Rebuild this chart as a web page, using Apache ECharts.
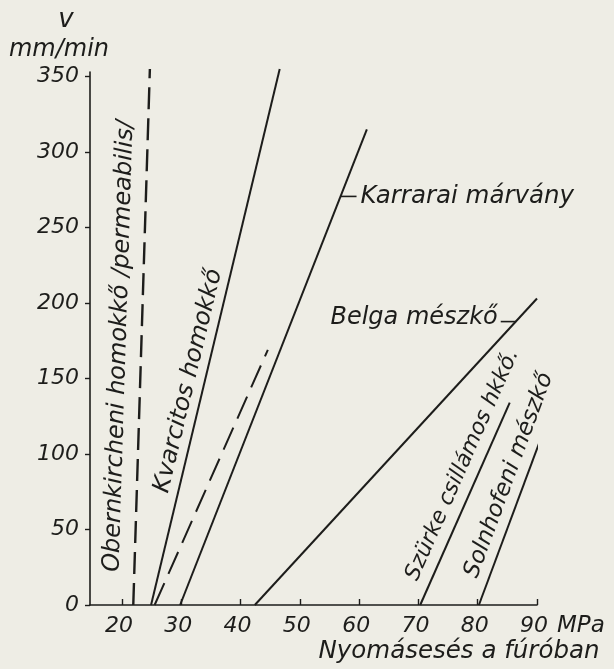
<!DOCTYPE html>
<html><head><meta charset="utf-8">
<script src="https://cdn.jsdelivr.net/npm/echarts@6/dist/echarts.min.js"></script>
<style>html,body{margin:0;padding:0;background:#eeede5;}#c{width:614px;height:669px;}</style>
</head><body><div id="c"></div>
<script>
// ---- data (MPa, mm/min) ----
const xTicks = [20, 30, 40, 50, 60, 70, 80, 90];
const yTicks = [0, 50, 100, 150, 200, 250, 300, 350];
const obernkirchen = [[21.9, 0], [24.7, 355]];
const kvarcitos = [[24.9, 0], [46.6, 355]];
const kvarcitosDashed = [[25.5, 0], [44.6, 169]];
const karrarai = [[29.8, 0], [61.3, 315]];
const belga = [[42.4, 0], [90.0, 203]];
const szurke = [[70.3, 0], [85.4, 134]];
const solnhofen = [[80.2, 0], [91.0, 114]];

const INK = '#1d1d1b';
const FONT = 'DejaVu Sans';

const chart = echarts.init(document.getElementById('c'));
function ln(data, dash, w) {
  return {type: 'line', data: data, showSymbol: false, clip: false, silent: true,
    lineStyle: {color: INK, width: w || 2, type: dash || 'solid'}};
}
chart.setOption({
  backgroundColor: '#eeede5',
  animation: false,
  grid: {left: 90, right: 77, top: 72, bottom: 64},
  xAxis: {type: 'value', min: 14.6, max: 90,
    axisLine: {lineStyle: {color: INK, width: 1.6}},
    axisTick: {inside: true, length: 6, customValues: xTicks, lineStyle: {color: INK, width: 1.4}},
    axisLabel: {customValues: xTicks, margin: 10, color: INK, fontSize: 22, fontStyle: 'italic', fontFamily: FONT,
      padding: [0, 6, 0, 0]},
    splitLine: {show: false}},
  yAxis: {type: 'value', min: 0, max: 353,
    axisLine: {show: true, lineStyle: {color: INK, width: 1.6}},
    axisTick: {show: true, length: 5, customValues: yTicks, lineStyle: {color: INK, width: 1.4}},
    axisLabel: {customValues: yTicks, margin: 11, color: INK, fontSize: 22, fontStyle: 'italic', fontFamily: FONT},
    splitLine: {show: false}},
  series: [
    ln(obernkirchen, [22, 9], 2.4),
    ln(kvarcitos),
    ln(kvarcitosDashed, [24, 10], 2),
    ln(karrarai),
    ln(belga),
    ln(szurke),
    ln(solnhofen)
  ]
});

function px(p) { return chart.convertToPixel({gridIndex: 0}, p); }
function txt(text, x, y, opts) {
  return Object.assign({type: 'text', x: x, y: y, silent: true,
    style: Object.assign({text: text, fill: INK, font: 'italic 24px "DejaVu Sans"', align: 'left', verticalAlign: 'middle'}, (opts && opts.style) || {})},
    opts && opts.rotation ? {rotation: opts.rotation} : {});
}
// label along a line: anchor at given y value, shifted perpendicular (left/up) by off pixels
function along(line, yv, off, text, size) {
  const a = px(line[0]), b = px(line[1]);
  const th = Math.atan2(a[1] - b[1], b[0] - a[0]);
  const xv = line[0][0] + (yv - line[0][1]) / (line[1][1] - line[0][1]) * (line[1][0] - line[0][0]);
  const p = px([xv, yv]);
  return txt(text, p[0] - Math.sin(th) * off, p[1] - Math.cos(th) * off,
    {rotation: th, style: {align: 'center', font: 'italic ' + size + 'px "DejaVu Sans"'}});
}
function leader(line, yv, len, side) {
  const xv = line[0][0] + (yv - line[0][1]) / (line[1][1] - line[0][1]) * (line[1][0] - line[0][0]);
  const p = px([xv, yv]);
  return {type: 'line', silent: true, shape: {x1: p[0], y1: p[1], x2: p[0] + side * len, y2: p[1]},
    style: {stroke: INK, lineWidth: 1.6}};
}
const g = [];
const o0 = px([0, 0]), o90 = px([90, 0]);
// axis titles
g.push(txt('v', 66, 20, {style: {align: 'center', font: 'italic 26px "DejaVu Sans"'}}));
g.push(txt('mm/min', 59, 50, {style: {align: 'center', font: 'italic 24px "DejaVu Sans"'}}));
g.push(txt('MPa', o90[0] + 20, o0[1] + 21, {style: {font: 'italic 23px "DejaVu Sans"'}}));
g.push(txt('Nyomásesés a fúróban', 459, 652, {style: {align: 'center', font: 'italic 24.5px "DejaVu Sans"'}}));
// line labels
g.push(along(obernkirchen, 171, 22, 'Obernkircheni homokkő /permeabilis/', 24));
g.push(along(kvarcitos, 146, 16, 'Kvarcitos homokkő', 24));
g.push(along(szurke, 88, 18, 'Szürke csillámos hkkő.', 22));
g.push(along(solnhofen, 82, 17, 'Solnhofeni mészkő', 23));
// Karrarai
g.push(leader(karrarai, 270.6, 16, 1));
const kp = px([karrarai[0][0] + 270.6 / karrarai[1][1] * (karrarai[1][0] - karrarai[0][0]), 270.6]);
g.push(txt('Karrarai márvány', kp[0] + 20, kp[1], {style: {font: 'italic 24.5px "DejaVu Sans"'}}));
// Belga
g.push(leader(belga, 187.7, 15, -1));
const bp = px([belga[0][0] + 187.7 / belga[1][1] * (belga[1][0] - belga[0][0]), 187.7]);
g.push(txt('Belga mészkő', bp[0] - 18, bp[1] - 4, {style: {align: 'right'}}));
chart.setOption({graphic: g});
</script></body></html>
